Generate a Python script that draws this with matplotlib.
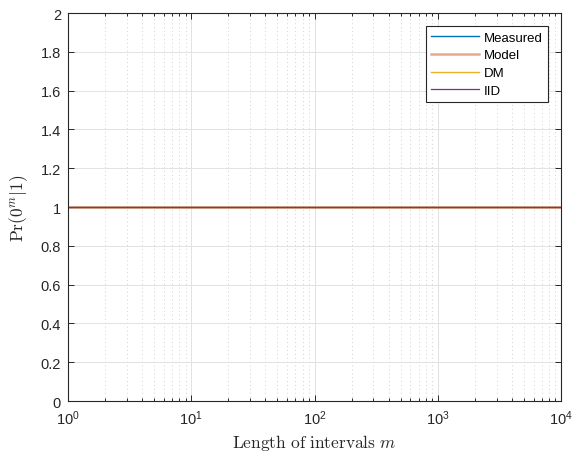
import matplotlib
matplotlib.use("Agg")
import matplotlib.pyplot as plt
from matplotlib.ticker import LogLocator, FixedLocator, NullFormatter

plt.rcParams['font.family'] = ['Liberation Sans', 'DejaVu Sans']

# Interval lengths and the conditional probability for each curve
lengths = [1, 10, 100, 1000, 10000]
measured = [1, 1, 1, 1, 1]
model = [1, 1, 1, 1, 1]
dm = [1, 1, 1, 1, 1]
iid = [1, 1, 1, 1, 1]

y_ticks = [0, 0.2, 0.4, 0.6, 0.8, 1, 1.2, 1.4, 1.6, 1.8, 2]
y_ticklabels = ['0', '0.2', '0.4', '0.6', '0.8', '1', '1.2', '1.4', '1.6', '1.8', '2']

fig = plt.figure(figsize=(5.82, 4.52), dpi=100)
ax = fig.add_axes([0.1168, 0.1106, 0.8472, 0.8584])

ax.plot(lengths, measured, color='#0072BD', lw=1.0, label='Measured')
ax.plot(lengths, model, color='#D95319', lw=1.8, alpha=0.5, label='Model')
ax.plot(lengths, dm, color='#EDB120', lw=1.0, label='DM')
ax.plot(lengths, iid, color='#7E2F8E', lw=0.9, label='IID')

ax.set_xscale('log')
ax.set_xlim(1, 1e4)
ax.set_ylim(0, 2)
ax.xaxis.set_major_locator(LogLocator(base=10, numticks=10))
ax.xaxis.set_minor_locator(LogLocator(base=10, subs=range(2, 10), numticks=10))
ax.xaxis.set_minor_formatter(NullFormatter())
ax.yaxis.set_major_locator(FixedLocator(y_ticks))
ax.set_yticklabels(y_ticklabels)

edge = '#262626'
for s in ax.spines.values():
    s.set_color(edge)
    s.set_linewidth(0.8)
ax.tick_params(which='both', direction='in', top=True, right=True,
               colors=edge, labelcolor='#262626', labelsize=10.5, width=0.7)
ax.tick_params(which='major', length=4.5, pad=5)
ax.tick_params(which='minor', length=2.5)

ax.grid(True, which='major', color='#e2e2e2', lw=0.7, ls='-')
ax.xaxis.grid(True, which='minor', color='#d2d2d2', lw=0.7, ls=(0, (1, 3)))
ax.set_axisbelow(True)

ax.set_xlabel(r'$\mathrm{Length\ of\ intervals}\ m$', math_fontfamily='cm',
              fontsize=12.5, color='#262626', labelpad=4)
ax.set_ylabel(r'$\mathrm{Pr}(0^m|1)$', math_fontfamily='cm',
              fontsize=12.5, color='#262626', labelpad=8)

leg = ax.legend(loc='upper right', fontsize=9.5, frameon=True, fancybox=False,
                edgecolor='#262626', framealpha=1, handlelength=3.6,
                borderpad=0.4, labelspacing=0.42, handletextpad=0.4,
                borderaxespad=0, bbox_to_anchor=(0.974, 0.966))
leg.get_frame().set_linewidth(0.8)

fig.savefig('out.png', dpi=100)
